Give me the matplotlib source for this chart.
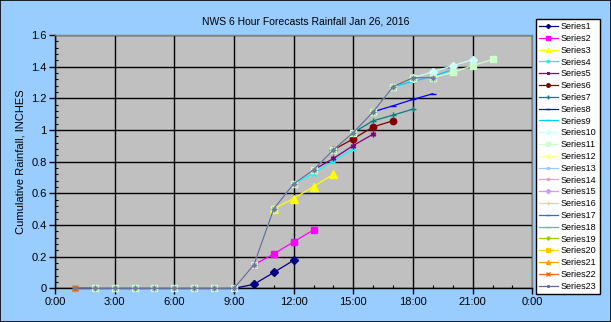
import matplotlib
matplotlib.use("Agg")
import matplotlib.pyplot as plt
from matplotlib.ticker import MultipleLocator, FuncFormatter

plt.rcParams['font.family'] = ['Liberation Sans', 'DejaVu Sans']

# observed cumulative rainfall (hours of the day)
obs_hours = [1, 2, 3, 4, 5, 6, 7, 8, 9, 10, 11, 12, 13, 14, 15, 16, 17, 18, 19]
obs_vals = [0, 0, 0, 0, 0, 0, 0, 0, 0, 0.148, 0.502, 0.66, 0.748, 0.875,
            0.984, 1.115, 1.274, 1.33, 1.33]

# forecast series: (hours, values)
s1_h, s1_v = [9, 10, 11, 12], [0, 0.025, 0.10, 0.177]
s2_h, s2_v = [10, 11, 12, 13], [0.148, 0.217, 0.293, 0.369]
s3_h, s3_v = [11, 12, 13, 14], [0.502, 0.567, 0.643, 0.721]
s4_h, s4_v = [12, 13, 14, 15], [0.66, 0.725, 0.805, 0.879]
s5_h, s5_v = [13, 14, 15, 16], [0.748, 0.82, 0.902, 0.974]
s6_h, s6_v = [14, 15, 16, 17], [0.875, 0.944, 1.02, 1.058]
s7_h, s7_v = [15, 16, 17, 18], [0.984, 1.058, 1.094, 1.132]
s8_h, s8_v = [16, 17, 18, 19], [1.115, 1.153, 1.193, 1.229]
s9_h, s9_v = [17, 18, 19, 20], [1.274, 1.307, 1.339, 1.381]
s10_h, s10_v = [18, 19, 20, 21], [1.33, 1.367, 1.406, 1.444]
s11_h = [2, 3, 4, 5, 6, 7, 8, 9, 10, 11, 12, 13, 14, 15, 16, 17, 18, 19, 20, 21, 22]
s11_v = [0, 0, 0, 0, 0, 0, 0, 0, 0.148, 0.502, 0.66, 0.748, 0.875, 0.984,
         1.115, 1.274, 1.33, 1.33, 1.364, 1.406, 1.446]
s21_h, s21_v = [1], [0]
s22_h, s22_v = [1], [0]

series = [
    (s1_h, s1_v), (s2_h, s2_v), (s3_h, s3_v), (s4_h, s4_v), (s5_h, s5_v),
    (s6_h, s6_v), (s7_h, s7_v), (s8_h, s8_v), (s9_h, s9_v), (s10_h, s10_v),
    (s11_h, s11_v), ([], []), ([], []), ([], []), ([], []), ([], []),
    ([], []), ([], []), ([], []), ([], []), (s21_h, s21_v), (s22_h, s22_v),
    (obs_hours, obs_vals),
]
labels = ['Series%d' % (i + 1) for i in range(23)]

colors = ['#000080', '#FF00FF', '#FFFF00', '#00FFFF', '#800080', '#800000',
          '#008080', '#0000FF', '#00CCFF', '#CCFFFF', '#CCFFCC', '#FFFF99',
          '#99CCFF', '#FF99CC', '#CC99FF', '#FFCC99', '#3366FF', '#33CCCC',
          '#99CC00', '#FFCC00', '#FF9900', '#FF6600', '#666699']
markers = ['D', 's', '^', 'x', (6, 2, 0), 'o', '+', '_', '_', 'D', 's', '^',
           'x', 's', 'D', '+', '_', '_', 'P', 's', '^', 'x', 's']
msizes = [3.8, 5, 5.2, 3.5, 4, 4.6, 5, 4, 5, 4, 5, 5.2, 3.5, 3.5, 4, 5, 4, 5, 4, 5, 5, 4, 2]

fig = plt.figure(figsize=(6.11, 3.22), dpi=100)
fig.patch.set_facecolor('#99CCFF')
fig.patches.append(plt.Rectangle((0.0008, 0.0015), 0.9984, 0.997, transform=fig.transFigure,
                                 fill=False, edgecolor='black', linewidth=1.2))

ax = fig.add_axes([55 / 611, 1 - 288.3 / 322, (532.3 - 55) / 611, (288.3 - 35) / 322])
ax.set_facecolor('#C0C0C0')

for i, (h, v) in enumerate(series):
    z = 3 + i * 0.05
    ax.plot(h, v, color=colors[i], marker=markers[i], markersize=msizes[i],
            markeredgecolor=colors[i], markerfacecolor=colors[i],
            linewidth=0.9, label=labels[i], zorder=z, clip_on=False)

# asterisk overlay on observed points
ax.plot(obs_hours, obs_vals, linestyle='none', marker='x', markersize=3.5,
        color='#707a99', markeredgewidth=0.8, zorder=4.5, clip_on=False)
ax.plot(obs_hours, obs_vals, linestyle='none', marker='+', markersize=4,
        color='#707a99', markeredgewidth=0.8, zorder=4.5, clip_on=False)

ax.set_xlim(0, 24)
ax.set_ylim(0, 1.6)
ax.xaxis.set_major_locator(MultipleLocator(3))
ax.xaxis.set_minor_locator(MultipleLocator(1))
ax.yaxis.set_major_locator(MultipleLocator(0.2))
ax.yaxis.set_minor_locator(MultipleLocator(0.04))
ax.xaxis.set_major_formatter(FuncFormatter(lambda x, p: '%d:00' % (int(round(x)) % 24)))
ax.yaxis.set_major_formatter(FuncFormatter(lambda y, p: ('%g' % round(y, 1))))

ax.grid(True, which='major', color='black', linewidth=1.0)
ax.set_axisbelow(True)
ax.tick_params(which='major', direction='out', length=4, width=1, labelsize=8, pad=2)
ax.tick_params(which='minor', direction='in', length=2.5, width=0.8)

for side in ['left', 'bottom']:
    ax.spines[side].set_color('black')
    ax.spines[side].set_linewidth(1.0)
for side in ['top', 'right']:
    ax.spines[side].set_color('#808080')
    ax.spines[side].set_linewidth(1.0)

ax.set_ylabel('Cumulative Rainfall, INCHES', fontsize=8, labelpad=4)
fig.text(0.5, 1 - 21 / 322, 'NWS 6 Hour Forecasts Rainfall Jan 26, 2016',
         ha='center', va='center', fontsize=7.5)

leg = ax.legend(loc='upper left', bbox_to_anchor=(535.7 / 611, 1 - 19 / 322),
                bbox_transform=fig.transFigure, borderaxespad=0, fontsize=6.5,
                handlelength=2.1, labelspacing=0.31, borderpad=0.35,
                handletextpad=0.35, markerscale=0.55, fancybox=False, framealpha=1)
leg.get_frame().set_edgecolor('black')
leg.get_frame().set_linewidth(1.0)

fig.savefig('out.png', dpi=100, facecolor=fig.get_facecolor())
